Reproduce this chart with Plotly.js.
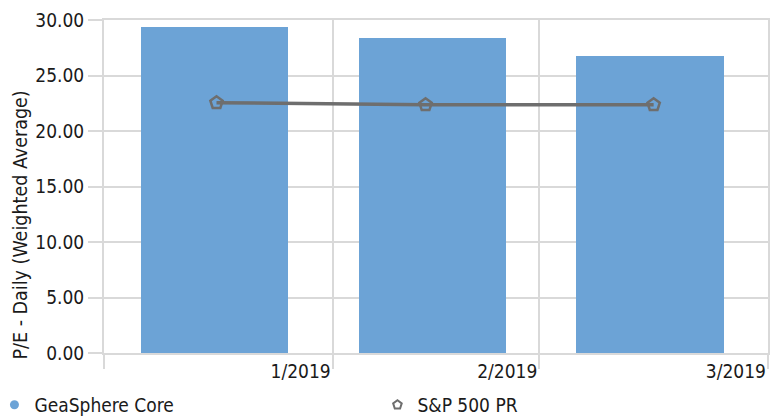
<!DOCTYPE html>
<html>
<head>
<meta charset="utf-8">
<script src="https://cdn.plot.ly/plotly-3.0.1.min.js"></script>
<style>html,body{margin:0;padding:0;background:#fff}#chart{width:772px;height:416px}</style>
</head>
<body>
<div id="chart"></div>
<script>
// Data
var barDates = ['2019-01-16', '2019-02-14 12:00', '2019-03-16'];
var geaSphereCore = [29.41, 28.42, 26.80];
var lineDates = ['2019-01-16 06:00', '2019-02-13 14:00', '2019-03-16 12:00'];
var sp500PR = [22.55, 22.36, 22.37];
var tickDates = ['2019-01-01', '2019-02-01', '2019-03-01', '2019-04-01'];
var tickLabels = ['', '1/2019', '2/2019', '3/2019'];
var seriesNames = ['GeaSphere Core', 'S&P 500 PR'];
var yTitle = 'P/E - Daily (Weighted Average)';

var FONT = 'DejaVu Sans Condensed, DejaVu Sans, sans-serif';
var TXT = '#1a1a1a';
var GRID = '#d9d9d9';
var BAR = '#6ca3d6';
var LINE = '#6e6e6e';
var DAY = 86400000;

var traces = [
  {type: 'bar', x: barDates, y: geaSphereCore, name: seriesNames[0], width: 20 * DAY,
   marker: {color: BAR}, showlegend: false, hoverinfo: 'y'},
  {type: 'scatter', mode: 'lines+markers', x: lineDates, y: sp500PR, name: seriesNames[1],
   line: {color: LINE, width: 3.5},
   marker: {symbol: 'pentagon-open', size: 13, color: LINE, line: {color: LINE, width: 2.5}},
   showlegend: false},
  {type: 'scatter', mode: 'markers', x: [null], y: [null], name: seriesNames[0],
   marker: {symbol: 'circle', size: 9, color: BAR}, showlegend: true},
  {type: 'scatter', mode: 'markers', x: [null], y: [null], name: seriesNames[1],
   marker: {symbol: 'pentagon-open', size: 9, color: LINE, line: {color: LINE, width: 2}}, showlegend: true}
];

var layout = {
  width: 772, height: 416,
  margin: {l: 104, r: 4, t: 20, b: 63, autoexpand: false},
  paper_bgcolor: '#ffffff', plot_bgcolor: '#ffffff',
  font: {family: FONT, size: 19, color: TXT},
  bargap: 0,
  xaxis: {
    type: 'date', range: ['2019-01-01', '2019-04-01'],
    tickmode: 'array', tickvals: tickDates, ticktext: tickLabels,
    ticks: 'outside', ticklen: 14, tickwidth: 2, tickcolor: GRID,
    ticklabelposition: 'outside left',
    showgrid: true, gridcolor: GRID, gridwidth: 2,
    showline: true, linecolor: GRID, linewidth: 2, mirror: true,
    zeroline: false, tickfont: {family: FONT, size: 19, color: TXT}
  },
  yaxis: {
    range: [0, 30], tickmode: 'array', tickvals: [0, 5, 10, 15, 20, 25, 30],
    tickformat: '.2f',
    ticks: 'outside', ticklen: 14, tickwidth: 2, tickcolor: GRID,
    showgrid: true, gridcolor: GRID, gridwidth: 2,
    showline: true, linecolor: GRID, linewidth: 2, mirror: true,
    zeroline: false, tickfont: {family: FONT, size: 19, color: TXT}
  },
  showlegend: true,
  legend: {
    orientation: 'h', x: -0.165, xanchor: 'left', y: -0.156, yanchor: 'middle',
    font: {family: FONT, size: 19, color: TXT},
    entrywidth: 338, entrywidthmode: 'pixels', itemwidth: 30,
    bgcolor: 'rgba(0,0,0,0)'
  },
  annotations: [{
    text: yTitle, xref: 'paper', yref: 'paper', x: -0.126, y: 0.384,
    xanchor: 'center', yanchor: 'middle', textangle: -90, showarrow: false,
    font: {family: FONT, size: 19.5, color: TXT}
  }]
};

Plotly.newPlot('chart', traces, layout, {displayModeBar: false, staticPlot: true});
</script>
</body>
</html>
